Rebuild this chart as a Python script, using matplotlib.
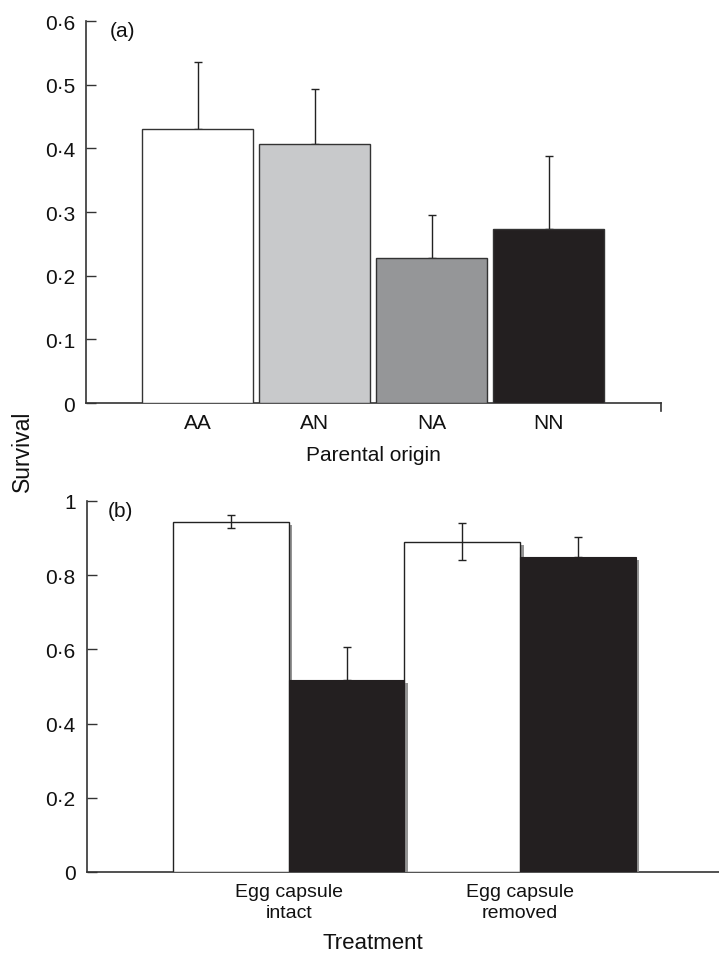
import matplotlib
matplotlib.use("Agg")
import matplotlib.pyplot as plt
import matplotlib.patheffects as pe
import numpy as np

plt.rcParams['font.family'] = ['Liberation Sans', 'DejaVu Sans']

# Panel (a) data
origins = ["AA", "AN", "NA", "NN"]
surv_a = [0.431, 0.407, 0.228, 0.273]
err_a = [0.105, 0.086, 0.067, 0.115]
colors_a = ["#ffffff", "#c8c9cb", "#959698", "#231f20"]

# Panel (b) data
treatments = ["Egg capsule\nintact", "Egg capsule\nremoved"]
surv_white = [0.944, 0.890]
err_white = [0.018, 0.050]
surv_black = [0.518, 0.849]
err_black = [0.088, 0.053]

def fmt(v, pos=None):
    if abs(v) < 1e-9:
        return "0"
    if abs(v - 1) < 1e-9:
        return "1"
    return ("%.1f" % v).replace(".", "\u00b7")

W, H = 719, 954
fig = plt.figure(figsize=(W / 100, H / 100), dpi=100)
axc = "#333333"
txt = "#111111"

# ---------- Panel (a)
ax1 = fig.add_axes([86 / W, 1 - 404 / H, (661 - 86) / W, (404 - 22) / H])
xa = np.arange(len(origins))
ax1.bar(xa, surv_a, width=0.95, color=colors_a, edgecolor="#333333", linewidth=1.0, zorder=3)
ax1.errorbar(xa, surv_a, yerr=[np.zeros(4), err_a], fmt="none", ecolor="#222222",
             elinewidth=1.0, capsize=2.6, capthick=1.0, zorder=2)
ax1.set_xlim(-0.953, 3.96)
ax1.set_ylim(0, 0.6)
ax1.set_yticks(np.arange(0, 0.61, 0.1))
ax1.yaxis.set_major_formatter(plt.FuncFormatter(fmt))
ax1.set_xticks(xa)
ax1.set_xticklabels(origins)
ax1.tick_params(axis="y", direction="in", length=7, width=1, colors=axc, labelcolor=txt, labelsize=15, pad=8)
ax1.tick_params(axis="x", length=0, labelsize=15, labelcolor=txt, pad=7)
for s in ["top", "right"]:
    ax1.spines[s].set_visible(False)
for s in ["left", "bottom"]:
    ax1.spines[s].set_color(axc)
    ax1.spines[s].set_linewidth(1.2)
ax1.plot([3.96, 3.96], [0, -0.012], color=axc, lw=1.2, clip_on=False)
ax1.text((110 - 86) / 575, 1.0, "(a)", transform=ax1.transAxes, fontsize=15, va="top", ha="left", color=txt)
fig.text(373 / W, 1 - 461 / H, "Parental origin", fontsize=15, ha="center", va="baseline", color=txt)

# ---------- Panel (b)
ax2 = fig.add_axes([86.7 / W, 1 - 873 / H, (719 - 86.7) / W, (873 - 502) / H])
xb = np.arange(len(treatments))
w = 0.5
shadow = [pe.SimplePatchShadow(offset=(2.5, -2), shadow_rgbFace="#888888", alpha=0.9), pe.Normal()]
bw = ax2.bar(xb - w / 2, surv_white, width=w, color="white", edgecolor="#222222", linewidth=1.0, zorder=3)
for p in bw:
    p.set_path_effects(shadow)
bb = ax2.bar(xb + w / 2, surv_black, width=w, color="#231f20", edgecolor="#231f20", linewidth=0.8, zorder=4)
for p in bb:
    p.set_path_effects(shadow)
ax2.errorbar(xb - w / 2, surv_white, yerr=err_white, fmt="none", ecolor="#222222",
             elinewidth=1.0, capsize=3, capthick=1.0, zorder=5)
ax2.errorbar(xb + w / 2, surv_black, yerr=[np.zeros(2), err_black], fmt="none", ecolor="#222222",
             elinewidth=1.0, capsize=3, capthick=1.0, zorder=2)
ax2.set_xlim(-0.873, 1.86)
ax2.set_ylim(0, 1.0)
ax2.set_yticks(np.arange(0, 1.01, 0.2))
ax2.yaxis.set_major_formatter(plt.FuncFormatter(fmt))
ax2.set_xticks(xb)
ax2.set_xticklabels(treatments, linespacing=1.3)
ax2.tick_params(axis="y", direction="in", length=7, width=1, colors=axc, labelcolor=txt, labelsize=15, pad=8)
ax2.tick_params(axis="x", length=0, labelsize=14, labelcolor=txt, pad=8)
for s in ["top", "right"]:
    ax2.spines[s].set_visible(False)
for s in ["left", "bottom"]:
    ax2.spines[s].set_color(axc)
    ax2.spines[s].set_linewidth(1.2)
ax2.text((108 - 86.7) / (719 - 86.7), 1.0, "(b)", transform=ax2.transAxes, fontsize=15, va="top", ha="left", color=txt)
fig.text(373 / W, 1 - 949 / H, "Treatment", fontsize=16, ha="center", va="baseline", color=txt)

fig.text(22 / W, 1 - 451 / H, "Survival", rotation=90, fontsize=16.5, va="center", ha="center", color=txt)

fig.savefig("out.png", dpi=100)
